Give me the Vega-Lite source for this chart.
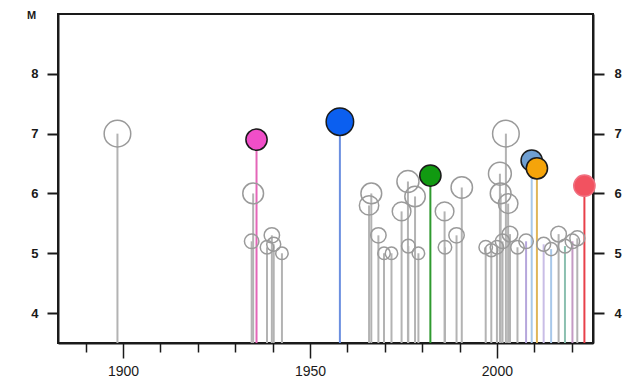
{
  "$schema": "https://vega.github.io/schema/vega-lite/v6.json",
  "width": 535,
  "height": 329,
  "autosize": "none",
  "padding": {"left": 58, "top": 14, "right": 37, "bottom": 36},
  "background": "white",
  "config": {"view": {"stroke": "#1a1a1a", "strokeWidth": 2}},
  "data": {"values": [
    {"year": 1898.5, "M": 7.0, "seq": "other", "main": false},
    {"year": 1934.4, "M": 5.2, "seq": "other", "main": false},
    {"year": 1934.8, "M": 6.0, "seq": "other", "main": false},
    {"year": 1938.5, "M": 5.1, "seq": "other", "main": false},
    {"year": 1939.8, "M": 5.3, "seq": "other", "main": false},
    {"year": 1940.3, "M": 5.15, "seq": "other", "main": false},
    {"year": 1942.5, "M": 5.0, "seq": "other", "main": false},
    {"year": 1965.8, "M": 5.8, "seq": "other", "main": false},
    {"year": 1966.4, "M": 6.0, "seq": "other", "main": false},
    {"year": 1968.3, "M": 5.3, "seq": "other", "main": false},
    {"year": 1969.8, "M": 5.0, "seq": "other", "main": false},
    {"year": 1971.8, "M": 5.0, "seq": "other", "main": false},
    {"year": 1974.5, "M": 5.7, "seq": "other", "main": false},
    {"year": 1976.2, "M": 6.2, "seq": "other", "main": false},
    {"year": 1976.3, "M": 5.12, "seq": "other", "main": false},
    {"year": 1978.1, "M": 5.95, "seq": "other", "main": false},
    {"year": 1979.0, "M": 5.0, "seq": "other", "main": false},
    {"year": 1986.0, "M": 5.7, "seq": "other", "main": false},
    {"year": 1986.1, "M": 5.1, "seq": "other", "main": false},
    {"year": 1989.2, "M": 5.3, "seq": "other", "main": false},
    {"year": 1990.6, "M": 6.1, "seq": "other", "main": false},
    {"year": 1997.0, "M": 5.1, "seq": "other", "main": false},
    {"year": 1998.5, "M": 5.05, "seq": "other", "main": false},
    {"year": 2000.0, "M": 5.1, "seq": "other", "main": false},
    {"year": 2000.8, "M": 6.33, "seq": "other", "main": false},
    {"year": 2001.0, "M": 6.0, "seq": "other", "main": false},
    {"year": 2001.5, "M": 5.2, "seq": "other", "main": false},
    {"year": 2002.4, "M": 7.0, "seq": "other", "main": false},
    {"year": 2003.0, "M": 5.83, "seq": "other", "main": false},
    {"year": 2003.5, "M": 5.32, "seq": "other", "main": false},
    {"year": 2005.5, "M": 5.1, "seq": "other", "main": false},
    {"year": 2007.8, "M": 5.2, "seq": "s2008", "main": false},
    {"year": 2012.5, "M": 5.15, "seq": "s2012", "main": false},
    {"year": 2014.5, "M": 5.07, "seq": "s2014", "main": false},
    {"year": 2016.5, "M": 5.32, "seq": "other", "main": false},
    {"year": 2018.2, "M": 5.12, "seq": "s2018", "main": false},
    {"year": 2020.2, "M": 5.2, "seq": "s2020", "main": false},
    {"year": 2021.5, "M": 5.25, "seq": "other", "main": false},
    {"year": 1935.7, "M": 6.9, "seq": "s1935", "main": true},
    {"year": 1958.0, "M": 7.2, "seq": "s1958", "main": true},
    {"year": 1982.2, "M": 6.3, "seq": "s1982", "main": true},
    {"year": 2009.3, "M": 6.55, "seq": "s2009", "main": true},
    {"year": 2010.7, "M": 6.42, "seq": "s2010", "main": true},
    {"year": 2023.4, "M": 6.13, "seq": "s2023", "main": true}
  ]},
  "encoding": {
    "x": {
      "field": "year", "type": "quantitative",
      "scale": {"domain": [1882.6, 2025.7], "nice": false, "zero": false},
      "axis": {
        "title": null,
        "values": [1890, 1900, 1910, 1920, 1930, 1940, 1950, 1960, 1970, 1980, 1990, 2000, 2010, 2020],
        "format": "d",
        "labelExpr": "datum.value % 50 === 0 ? datum.label : ''",
        "tickSize": {"condition": {"test": "datum.value % 50 === 0", "value": 15}, "value": 9},
        "tickColor": "#1a1a1a",
        "tickWidth": 1.5,
        "domainColor": "#1a1a1a",
        "domainWidth": 2,
        "labelFont": "Liberation Sans",
        "labelFontSize": 14,
        "labelColor": "#1a1a1a",
        "labelPadding": 6,
        "labelFlush": false,
        "grid": false
      }
    }
  },
  "layer": [
    {
      "mark": {"type": "rule", "strokeWidth": 2},
      "encoding": {
        "y": {
          "field": "M", "type": "quantitative",
          "scale": {"domain": [3.5, 9], "nice": false, "zero": false},
          "axis": {
            "title": "M",
            "titleAngle": 0,
            "titleX": -27,
            "titleY": 1,
            "titleAlign": "center",
            "titleBaseline": "middle",
            "titleFont": "Liberation Sans",
            "titleFontSize": 11,
            "titleFontWeight": "bold",
            "titleColor": "#1a1a1a",
            "values": [4, 5, 6, 7, 8],
            "tickSize": 11,
            "tickWidth": 2,
            "tickColor": "#1a1a1a",
            "domainColor": "#1a1a1a",
            "domainWidth": 2,
            "labelFont": "Liberation Sans",
            "labelFontSize": 13,
            "labelFontWeight": "bold",
            "labelColor": "#1a1a1a",
            "labelPadding": 9,
            "grid": false
          }
        },
        "y2": {"datum": 3.5},
        "stroke": {
          "field": "seq", "type": "nominal", "legend": null,
          "scale": {
            "domain": ["other", "s1935", "s1958", "s1982", "s2008", "s2009", "s2010", "s2012", "s2014", "s2018", "s2020", "s2023"],
            "range": ["#b3b3b3", "#e466b8", "#6b8fe0", "#2f9a2f", "#b6a6dc", "#a8c8ea", "#e0b55a", "#c9bde6", "#a8c8ea", "#8cc0b0", "#c49ac4", "#e8404a"]
          }
        },
        "strokeWidth": {"condition": {"test": "datum.year < 1900", "value": 1.2}, "value": 2},
        "order": {"field": "main", "type": "nominal"}
      }
    },
    {
      "transform": [{"filter": "!datum.main"}],
      "mark": {"type": "point", "shape": "circle", "filled": false, "stroke": "#9a9a9a", "strokeWidth": 1.5, "opacity": 1},
      "encoding": {
        "y": {"field": "M", "type": "quantitative", "axis": null},
        "size": {"field": "M", "type": "quantitative", "legend": null,
          "scale": {"type": "linear", "domain": [5, 7], "range": [154, 707]}}
      }
    },
    {
      "transform": [{"filter": "datum.main"}],
      "mark": {"type": "point", "shape": "circle", "filled": true, "strokeWidth": 1.5, "opacity": 1},
      "encoding": {
        "y": {
          "field": "M", "type": "quantitative",
          "axis": {
            "orient": "right",
            "title": null,
            "values": [4, 5, 6, 7, 8],
            "tickSize": 11,
            "tickWidth": 2,
            "tickColor": "#1a1a1a",
            "domainColor": "#1a1a1a",
            "domainWidth": 2,
            "labelFont": "Liberation Sans",
            "labelFontSize": 13,
            "labelFontWeight": "bold",
            "labelColor": "#1a1a1a",
            "labelPadding": 10,
            "grid": false
          }
        },
        "fill": {
          "field": "seq", "type": "nominal", "legend": null,
          "scale": {
            "domain": ["s1935", "s1958", "s1982", "s2009", "s2010", "s2023"],
            "range": ["#f04ec8", "#0b5ff0", "#119a11", "#6f9fd2", "#f5a40a", "#f25260"]
          }
        },
        "stroke": {"condition": {"test": "datum.seq === 's2023'", "value": "#f07080"}, "value": "#1a1a1a"},
        "size": {"field": "M", "type": "quantitative", "legend": null,
          "scale": {"type": "linear", "domain": [6.9, 7.2], "range": [452, 755], "clamp": true}}
      }
    }
  ],
  "resolve": {"axis": {"y": "independent"}, "scale": {"size": "independent"}}
}
